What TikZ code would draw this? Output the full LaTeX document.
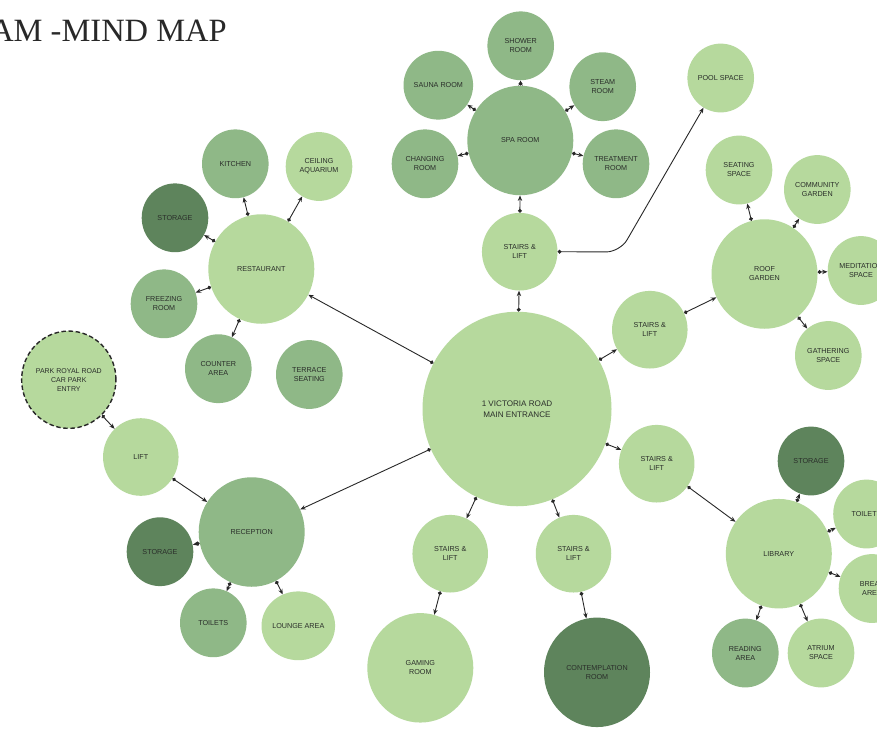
\documentclass[tikz,border=0pt]{standalone}
\usepackage{fontspec}
\usetikzlibrary{shapes.geometric,arrows.meta}
\newfontfamily\labfont{Liberation Sans}
\newfontfamily\titlefont{Liberation Serif}
\definecolor{lightg}{RGB}{182,217,157}
\definecolor{midg}{RGB}{143,184,135}
\definecolor{darkg}{RGB}{94,132,92}
\definecolor{linec}{RGB}{40,40,40}
\definecolor{labc}{RGB}{42,46,42}
\definecolor{titlec}{RGB}{40,40,40}
\tikzset{
  bub/.style={ellipse, inner sep=0pt, align=center, text=labc,
    font=\labfont\fontsize{7.2}{9}\selectfont},
  bsmall/.style={bub, minimum width=66.6pt, minimum height=68.8pt},
  bstair/.style={bub, minimum width=75.5pt, minimum height=77.6pt},
  blarge/.style={bub, minimum width=106pt, minimum height=109.5pt},
  fl/.style={fill=lightg},
  fm/.style={fill=midg},
  fd/.style={fill=darkg},
  conn/.style={draw=linec, line width=0.9pt,
    {Circle[length=3.8pt]}-{Stealth[length=5.4pt,width=4.4pt]}},
}
\begin{document}
\begin{tikzpicture}[x=1pt,y=-1pt]
\useasboundingbox (0,0) rectangle (877,729);
\clip (0,0) rectangle (877,729);
\fill[white] (0,0) rectangle (877,729);

\node[anchor=base east, inner sep=0pt, text=titlec,
  font=\titlefont\fontsize{32.5}{34}\selectfont] (title) at (227,41.5) {AM -MIND MAP};

% main
\node[bub, fl, minimum width=189pt, minimum height=194.5pt,
  font=\labfont\fontsize{8.1}{10.7}\selectfont] (main) at (517,409) {1 VICTORIA ROAD\\MAIN ENTRANCE};

% spa cluster
\node[blarge, fm] (spa) at (520.3,140.5) {SPA ROOM};
\node[bsmall, fm] (shower) at (520.7,45.8) {SHOWER\\ROOM};
\node[bsmall, fm] (sauna) at (438.3,85.2) {SAUNA ROOM};
\node[bsmall, fm] (steam) at (602.7,86.7) {STEAM\\ROOM};
\node[bsmall, fm] (changing) at (425,163.8) {CHANGING\\ROOM};
\node[bsmall, fm] (treat) at (616,163.8) {TREATMENT\\ROOM};
\node[bstair, fl] (stT) at (519.7,251.7) {STAIRS \&\\LIFT};
\node[bsmall, fl] (pool) at (720.7,78) {POOL SPACE};

% restaurant cluster
\node[blarge, fl] (rest) at (261.3,269) {RESTAURANT};
\node[bsmall, fm] (kitchen) at (235.3,163.8) {KITCHEN};
\node[bsmall, fl] (aqua) at (319,166.5) {CEILING\\AQUARIUM};
\node[bsmall, fd] (storR) at (175,217.8) {STORAGE};
\node[bsmall, fm] (freez) at (164,303.8) {FREEZING\\ROOM};
\node[bsmall, fm] (counter) at (218.3,368.7) {COUNTER\\AREA};
\node[bsmall, fm] (terrace) at (309.3,374.5) {TERRACE\\SEATING};

% left
\node[bub, fl, minimum width=94.3pt, minimum height=97.3pt, draw=linec,
  line width=1.4pt, dash pattern=on 4.5pt off 2.6pt, font=\labfont\fontsize{7}{9}\selectfont]
  (park) at (68.8,379.7) {PARK ROYAL ROAD\\CAR PARK\\ENTRY};
\node[bstair, fl] (lift) at (140.8,457) {LIFT};

% reception cluster
\node[blarge, fm] (recep) at (251.7,532) {RECEPTION};
\node[bsmall, fd] (storRec) at (160,551.7) {STORAGE};
\node[bsmall, fm] (toilRec) at (213.3,622.8) {TOILETS};
\node[bsmall, fl] (lounge) at (298.3,625.8) {LOUNGE AREA};

% bottom
\node[bstair, fl] (stBL) at (450.2,553.7) {STAIRS \&\\LIFT};
\node[bstair, fl] (stBR) at (573.5,553.7) {STAIRS \&\\LIFT};
\node[blarge, fl] (gaming) at (420.3,667.8) {GAMING\\ROOM};
\node[blarge, fd] (contemp) at (597,672.3) {CONTEMPLATION\\ROOM};

% roof garden cluster
\node[bstair, fl] (stR1) at (649.8,329.7) {STAIRS \&\\LIFT};
\node[blarge, fl] (roof) at (764.5,274) {ROOF\\GARDEN};
\node[bsmall, fl] (seat) at (739,170) {SEATING\\SPACE};
\node[bsmall, fl] (comm) at (817.3,189.5) {COMMUNITY\\GARDEN};
\node[bsmall, fl] (medit) at (861,270.5) {MEDITATION\\SPACE};
\node[bsmall, fl] (gather) at (828.3,355.5) {GATHERING\\SPACE};

% library cluster
\node[bstair, fl] (stR2) at (656.7,463.7) {STAIRS \&\\LIFT};
\node[blarge, fl] (lib) at (778.8,553.7) {LIBRARY};
\node[bsmall, fd] (storL) at (811,461) {STORAGE};
\node[bsmall, fl] (toilL) at (866.5,514) {TOILETS};
\node[bsmall, fl] (brk) at (872,588.5) {BREAK\\AREA};
\node[bsmall, fm] (read) at (745.3,653) {READING\\AREA};
\node[bsmall, fl] (atrium) at (821,653) {ATRIUM\\SPACE};

\coordinate (poolbend) at (620,252);

% connectors
\draw[conn] (main) -- (rest);
\draw[conn] (main) -- (recep);
\draw[conn] (main) -- (stT);
\draw[conn] (main) -- (stR1);
\draw[conn] (main) -- (stR2);
\draw[conn] (main) -- (stBL);
\draw[conn] (main) -- (stBR);

\draw[conn] (rest) -- (kitchen);
\draw[conn] (rest) -- (aqua);
\draw[conn] (rest) -- (storR);
\draw[conn] (rest) -- (freez);
\draw[conn] (rest) -- (counter);

\draw[conn] (park) -- (lift);
\draw[conn] (lift) -- (recep);
\draw[conn] (recep) -- (storRec);
\draw[conn] (recep) -- (toilRec);
\draw[conn] (recep) -- (lounge);

\draw[conn] (stT) -- (spa);
\draw[conn] (spa) -- (shower);
\draw[conn] (spa) -- (sauna);
\draw[conn] (spa) -- (steam);
\draw[conn] (spa) -- (changing);
\draw[conn] (spa) -- (treat);
\draw[conn, rounded corners=14pt] (stT.east) -- (poolbend) -- (pool);

\draw[conn] (stR1) -- (roof);
\draw[conn] (roof) -- (seat);
\draw[conn] (roof) -- (comm);
\draw[conn] (roof) -- (medit);
\draw[conn] (roof) -- (gather);

\draw[conn] (stR2) -- (lib);
\draw[conn] (lib) -- (storL);
\draw[conn] (lib) -- (toilL);
\draw[conn] (lib) -- (brk);
\draw[conn] (lib) -- (read);
\draw[conn] (lib) -- (atrium);

\draw[conn] (stBL) -- (gaming);
\draw[conn] (stBR) -- (contemp);
\end{tikzpicture}
\end{document}
